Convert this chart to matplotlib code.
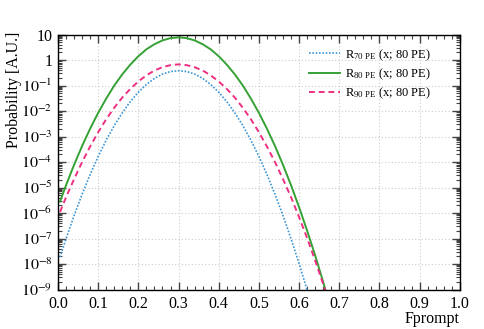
import numpy as np
import matplotlib
matplotlib.use("Agg")
import matplotlib.pyplot as plt
from matplotlib.ticker import LogLocator, MultipleLocator, FuncFormatter

plt.rcParams["font.family"] = ["Liberation Serif", "DejaVu Serif"]
plt.rcParams["mathtext.fontset"] = "stix"

# Fprompt sample points
fprompt = [0.005, 0.02, 0.04, 0.06, 0.08, 0.10, 0.12, 0.14, 0.16, 0.18, 0.20,
           0.22, 0.24, 0.26, 0.28, 0.30, 0.32, 0.34, 0.36, 0.38, 0.40, 0.42,
           0.44, 0.46, 0.48, 0.50, 0.52, 0.54, 0.56, 0.58, 0.60, 0.62, 0.64,
           0.66, 0.68]

# log10 of probability
log_r70 = [-7.73, -7.01, -6.10, -5.26, -4.49, -3.78, -3.14, -2.57, -2.07, -1.63, -1.26,
           -0.96, -0.72, -0.55, -0.45, -0.42, -0.45, -0.55, -0.72, -0.96, -1.26, -1.63,
           -2.07, -2.57, -3.14, -3.78, -4.49, -5.26, -6.10, -7.01, -7.98, -9.02, -10.13,
           -11.3, -12.5]
log_r80 = [-5.55, -4.91, -4.11, -3.37, -2.69, -2.07, -1.51, -1.00, -0.56, -0.18, 0.15,
           0.42, 0.62, 0.77, 0.86, 0.89, 0.86, 0.77, 0.62, 0.42, 0.15, -0.18,
           -0.56, -1.00, -1.51, -2.07, -2.69, -3.37, -4.11, -4.91, -5.77, -6.69, -7.66,
           -8.70, -9.80]
log_r90 = [-5.96, -5.38, -4.67, -4.00, -3.39, -2.83, -2.32, -1.87, -1.47, -1.13, -0.84,
           -0.60, -0.41, -0.28, -0.20, -0.17, -0.20, -0.28, -0.41, -0.60, -0.84, -1.13,
           -1.47, -1.87, -2.32, -2.83, -3.39, -4.00, -4.67, -5.38, -6.16, -6.98, -7.86,
           -8.79, -9.77]

labels = [r"R$_{\mathregular{70\ PE}}$ (x; 80 PE)",
          r"R$_{\mathregular{80\ PE}}$ (x; 80 PE)",
          r"R$_{\mathregular{90\ PE}}$ (x; 80 PE)"]

fig = plt.figure(figsize=(4.85, 3.29), dpi=100)
ax = fig.add_axes([0.1196, 0.12, 0.8284, 0.775])

x = np.array(fprompt)
ax.plot(x, 10 ** np.array(log_r70), color="#3d96d6", ls=(0, (1, 1)), lw=1.2, label=labels[0])
ax.plot(x, 10 ** np.array(log_r80), color="#35a135", ls="-", lw=1.4, label=labels[1])
ax.plot(x, 10 ** np.array(log_r90), color="#ee2f82", ls=(0, (3, 2)), lw=1.4, label=labels[2])

ax.set_yscale("log")
ax.set_xlim(0, 1)
ax.set_ylim(1e-9, 10)

ax.xaxis.set_major_locator(MultipleLocator(0.1))
ax.xaxis.set_minor_locator(MultipleLocator(0.02))
ax.xaxis.set_major_formatter(FuncFormatter(lambda v, p: f"{v:.1f}"))
ax.yaxis.set_major_locator(LogLocator(base=10, numticks=20))
ax.yaxis.set_minor_locator(LogLocator(base=10, subs=np.arange(2, 10), numticks=20))


def yfmt(v, p):
    e = int(round(np.log10(v)))
    if e == 1:
        return "10"
    if e == 0:
        return "1"
    return r"$10^{%d}$" % e


ax.yaxis.set_major_formatter(FuncFormatter(yfmt))
ax.tick_params(which="both", direction="in", top=True, right=True, labelsize=11.5, color="#444444")
ax.tick_params(which="major", length=6, width=1)
ax.tick_params(which="minor", length=3, width=0.8)
ax.tick_params(axis="x", which="major", pad=5)
ax.tick_params(axis="y", which="major", pad=4)

ax.grid(True, which="major", ls=(0, (1, 2)), color="#cccccc", lw=0.8)
for s in ax.spines.values():
    s.set_linewidth(1.0)

ax.set_xlabel("Fprompt", loc="right", fontsize=11.5)
ax.set_ylabel("Probability [A.U.]", loc="top", fontsize=11.5)
ax.xaxis.set_label_coords(1.0, -0.085)
ax.yaxis.set_label_coords(-0.09, 1.01)

ax.legend(loc="upper left", bbox_to_anchor=(0.605, 0.98), frameon=False, fontsize=9.0,
          handlelength=2.5, handletextpad=0.45, labelspacing=0.3, borderaxespad=0.2)

fig.savefig("out.png", dpi=100)
